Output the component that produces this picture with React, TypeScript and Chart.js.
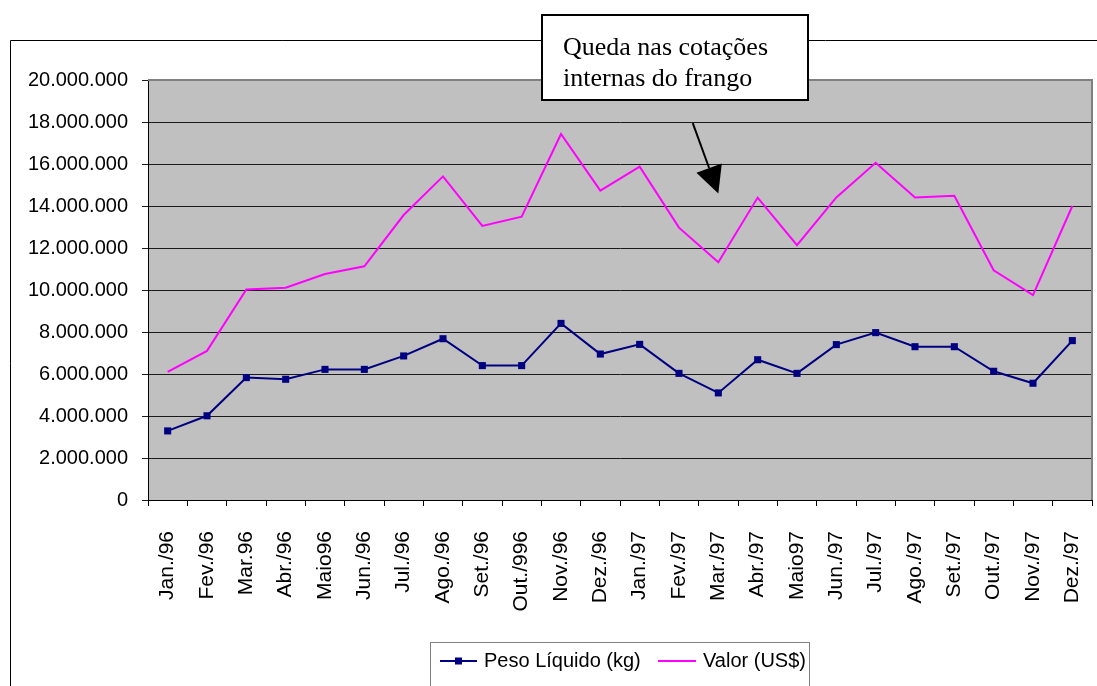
import React, { useEffect, useRef } from "react";
import { Chart, registerables } from "chart.js";

Chart.register(...registerables);

const months = [
  "Jan./96", "Fev./96", "Mar.96", "Abr./96", "Maio96", "Jun./96",
  "Jul./96", "Ago./96", "Set./96", "Out./996", "Nov./96", "Dez./96",
  "Jan./97", "Fev./97", "Mar./97", "Abr./97", "Maio97", "Jun./97",
  "Jul./97", "Ago./97", "Set./97", "Out./97", "Nov./97", "Dez./97",
];

const pesoLiquido = [
  3290000, 4010000, 5830000, 5750000, 6220000, 6220000,
  6860000, 7680000, 6400000, 6400000, 8410000, 6950000,
  7410000, 6030000, 5100000, 6680000, 6030000, 7400000,
  7970000, 7300000, 7300000, 6130000, 5560000, 7590000,
];

const valor = [
  6100000, 7100000, 10020000, 10110000, 10760000, 11130000,
  13570000, 15410000, 13050000, 13490000, 17430000, 14730000,
  15870000, 12970000, 11320000, 14400000, 12140000, 14410000,
  16060000, 14410000, 14490000, 10940000, 9760000, 14000000,
];

const seriesLabels = ["Peso Líquido (kg)", "Valor (US$)"];
const annotationLines = ["Queda nas cotações", "internas do frango"];
// arrow: tail and tip in data coordinates (category index, value)
const arrowTail = [13.35, 17950000];
const arrowTip = [14, 14600000];

const yMin = 0;
const yMax = 20000000;
const yStep = 2000000;

const fmt = (v: number) =>
  v === 0 ? "0" : String(Math.round(v)).replace(/\B(?=(\d{3})+(?!\d))/g, ".");

const SANS = "'Liberation Sans', Arial, sans-serif";
const SERIF = "'Liberation Serif', 'Times New Roman', serif";

const decorPlugin = {
  id: "decor",
  beforeDraw(chart: any) {
    const ctx = chart.ctx;
    const { left, top, right, bottom } = chart.chartArea;
    ctx.save();
    ctx.fillStyle = "#ffffff";
    ctx.fillRect(0, 0, chart.width, chart.height);
    // outer chart frame
    ctx.strokeStyle = "#000000";
    ctx.lineWidth = 1;
    ctx.beginPath();
    ctx.moveTo(10.5, chart.height);
    ctx.lineTo(10.5, 40.5);
    ctx.lineTo(chart.width, 40.5);
    ctx.stroke();
    // plot background
    ctx.fillStyle = "#c0c0c0";
    ctx.fillRect(left, top, right - left, bottom - top);
    ctx.restore();
  },
  afterDraw(chart: any) {
    const ctx = chart.ctx;
    const { left, top, right, bottom } = chart.chartArea;
    const xs = chart.scales.x;
    const ys = chart.scales.y;
    ctx.save();
    // plot border (top/right)
    ctx.strokeStyle = "#808080";
    ctx.lineWidth = 2;
    ctx.beginPath();
    ctx.moveTo(left, top);
    ctx.lineTo(right, top);
    ctx.lineTo(right, bottom);
    ctx.stroke();

    // arrow
    const tx = xs.getPixelForValue(arrowTail[0]);
    const ty = ys.getPixelForValue(arrowTail[1]);
    const hx = xs.getPixelForValue(arrowTip[0]);
    const hy = ys.getPixelForValue(arrowTip[1]);
    const dx = hx - tx, dy = hy - ty;
    const len = Math.hypot(dx, dy);
    const ux = dx / len, uy = dy / len;
    const headLen = 27, halfW = 13.5;
    const bx = hx - ux * headLen, by = hy - uy * headLen;
    ctx.strokeStyle = "#000";
    ctx.lineWidth = 2;
    ctx.beginPath();
    ctx.moveTo(tx, ty);
    ctx.lineTo(bx, by);
    ctx.stroke();
    ctx.fillStyle = "#000";
    ctx.beginPath();
    ctx.moveTo(hx, hy);
    ctx.lineTo(bx - uy * halfW, by + ux * halfW);
    ctx.lineTo(bx + uy * halfW, by - ux * halfW);
    ctx.closePath();
    ctx.fill();

    // annotation box
    ctx.fillStyle = "#ffffff";
    ctx.fillRect(542, 15, 266, 85);
    ctx.strokeStyle = "#000";
    ctx.lineWidth = 2;
    ctx.strokeRect(542, 15, 266, 85);
    ctx.fillStyle = "#000";
    ctx.font = `26px ${SERIF}`;
    ctx.textAlign = "left";
    ctx.textBaseline = "alphabetic";
    ctx.fillText(annotationLines[0], 563, 55);
    ctx.fillText(annotationLines[1], 563, 86);

    // legend
    ctx.fillStyle = "#ffffff";
    ctx.fillRect(430.5, 642.5, 379, 60);
    ctx.strokeStyle = "#808080";
    ctx.lineWidth = 1;
    ctx.strokeRect(430.5, 642.5, 379, 60);
    const ly = 661;
    const ds = chart.data.datasets;
    // series 1
    ctx.strokeStyle = ds[0].borderColor;
    ctx.lineWidth = 2;
    ctx.beginPath();
    ctx.moveTo(440, ly);
    ctx.lineTo(477, ly);
    ctx.stroke();
    ctx.fillStyle = ds[0].borderColor;
    ctx.fillRect(455, ly - 3.5, 7, 7);
    ctx.fillStyle = "#000";
    ctx.font = `20px ${SANS}`;
    ctx.textBaseline = "middle";
    ctx.fillText(ds[0].label, 484, ly);
    // series 2
    ctx.strokeStyle = ds[1].borderColor;
    ctx.beginPath();
    ctx.moveTo(658, ly);
    ctx.lineTo(696, ly);
    ctx.stroke();
    ctx.fillStyle = "#000";
    ctx.fillText(ds[1].label, 703, ly);
    ctx.restore();
  },
};

export default function App() {
  const canvasRef = useRef<HTMLCanvasElement | null>(null);

  useEffect(() => {
    document.body.style.margin = "0";
    const canvas = canvasRef.current;
    if (!canvas) return;
    const chart = new Chart(canvas, {
      type: "line",
      data: {
        labels: months,
        datasets: [
          {
            label: seriesLabels[0],
            data: pesoLiquido,
            borderColor: "#000080",
            backgroundColor: "#000080",
            borderWidth: 2,
            pointStyle: "rect",
            pointRadius: 5,
            pointBorderWidth: 0,
            tension: 0,
          },
          {
            label: seriesLabels[1],
            data: valor,
            borderColor: "#ff00ff",
            backgroundColor: "#ff00ff",
            borderWidth: 2,
            pointRadius: 0,
            tension: 0,
          },
        ],
      },
      options: {
        responsive: false,
        animation: false,
        events: [],
        layout: { padding: { left: 0, top: 80, right: 3, bottom: 0 } },
        plugins: {
          legend: { display: false },
          title: { display: false },
          tooltip: { enabled: false },
        },
        scales: {
          x: {
            type: "category",
            offset: true,
            grid: {
              offset: true,
              drawOnChartArea: false,
              drawTicks: true,
              tickLength: 6,
              color: "#000",
            },
            border: { display: true, color: "#000", width: 1 },
            ticks: {
              autoSkip: false,
              minRotation: 90,
              maxRotation: 90,
              padding: 25,
              color: "#000",
              font: { family: SANS, size: 21 },
            },
            afterFit(scale: any) {
              scale.height = 186;
              scale.paddingLeft = 0;
              scale.paddingRight = 0;
            },
          },
          y: {
            min: yMin,
            max: yMax,
            grid: {
              color: "#1a1a1a",
              lineWidth: 1,
              drawTicks: true,
              tickLength: 6,
            },
            border: { display: true, color: "#000", width: 1 },
            ticks: {
              stepSize: yStep,
              padding: 14,
              color: "#000",
              font: { family: SANS, size: 20 },
              callback: (v: any) => fmt(Number(v)),
            },
            afterFit(scale: any) {
              scale.width = 148;
            },
          },
        },
      },
      plugins: [decorPlugin],
    });
    return () => chart.destroy();
  }, []);

  return (
    <div style={{ width: 1097, height: 686 }}>
      <canvas ref={canvasRef} width={1097} height={686} style={{ display: "block" }} />
    </div>
  );
}
